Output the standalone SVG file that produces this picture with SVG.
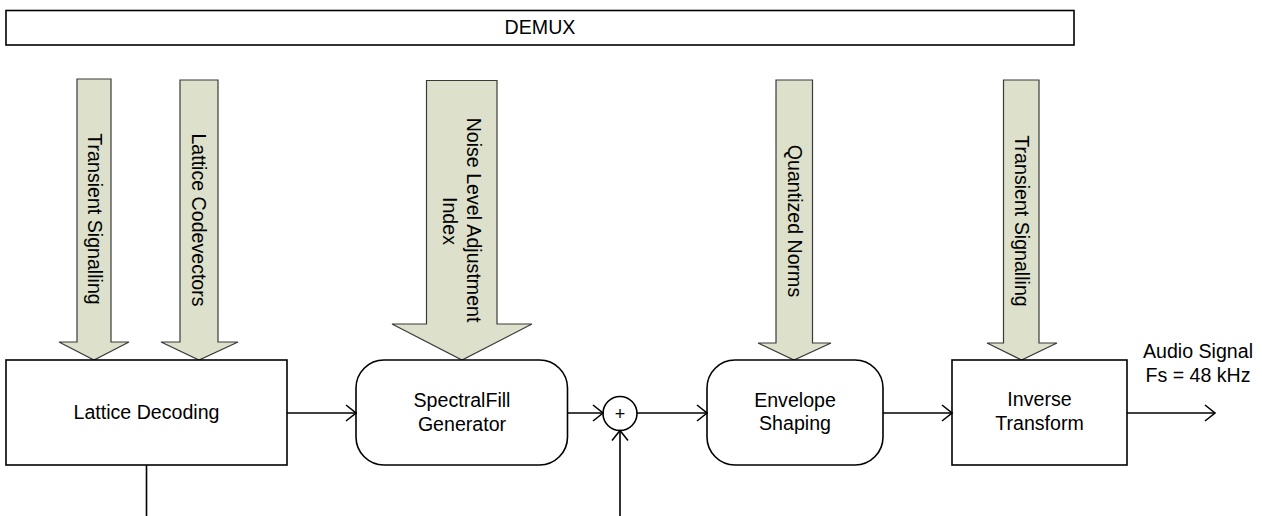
<svg xmlns="http://www.w3.org/2000/svg" width="1262" height="516" viewBox="0 0 1262 516">
<defs>
<style>
.box{fill:#fff;stroke:#000;stroke-width:1.6}
.t{font-family:"Liberation Sans",Arial,sans-serif;font-size:19.6px;fill:#000;text-anchor:middle}
.vt{font-family:"Liberation Sans",Arial,sans-serif;font-size:19.6px;fill:#000;text-anchor:middle;dominant-baseline:central}
.fat{fill:#DDE1CB;stroke:#3a3a3a;stroke-width:1.2}
.ln{fill:none;stroke:#000;stroke-width:1.6}
</style>
<marker id="arr" viewBox="-12 -12 24 24" markerWidth="24" markerHeight="24" refX="0" refY="0" orient="auto" markerUnits="userSpaceOnUse">
<path d="M-10,-8 L0,0 L-10,8" fill="none" stroke="#000" stroke-width="1.6"/>
</marker>
</defs>

<g id="demux">
<rect class="box" x="6" y="10.5" width="1068" height="34.5"/>
<text class="t" x="540" y="34">DEMUX</text>
</g>

<g id="arrow-transient-1">
<polygon class="fat" points="77,79 111,79 111,342 129,342 94,360 59,342 77,342"/>
<text class="vt" transform="translate(95,219) rotate(90)">Transient Signalling</text>
</g>
<g id="arrow-lattice-codevectors">
<polygon class="fat" points="180,80 218,80 218,342 238,342 199,360 161,342 180,342"/>
<text class="vt" transform="translate(199,220) rotate(90)">Lattice Codevectors</text>
</g>
<g id="arrow-noise-level">
<polygon class="fat" points="426.5,80.5 497,80.5 497,324 532,324 462,360 392,324 426.5,324"/>
<text class="vt" transform="translate(473.5,220) rotate(90)">Noise Level Adjustment</text>
<text class="vt" transform="translate(450,221) rotate(90)">Index</text>
</g>
<g id="arrow-quantized-norms">
<polygon class="fat" points="776,80 812.5,80 812.5,343 831,343 794,360 758,343 776,343"/>
<text class="vt" transform="translate(795,221) rotate(90)">Quantized Norms</text>
</g>
<g id="arrow-transient-2">
<polygon class="fat" points="1003.5,80 1039,80 1039,343 1057,343 1021.5,360 987,343 1003.5,343"/>
<text class="vt" transform="translate(1022,221) rotate(90)">Transient Signalling</text>
</g>

<g id="lattice-decoding">
<rect class="box" x="6" y="360" width="281" height="105"/>
<text class="t" x="146.5" y="419">Lattice Decoding</text>
</g>
<g id="spectralfill-generator">
<rect class="box" x="356" y="360" width="211.5" height="105" rx="28" ry="28"/>
<text class="t" x="462" y="407">SpectralFill</text>
<text class="t" x="462" y="431">Generator</text>
</g>
<g id="adder">
<circle class="box" cx="620" cy="413.5" r="17"/>
<text class="t" x="620" y="420" style="font-size:18px">+</text>
</g>
<g id="envelope-shaping">
<rect class="box" x="707" y="360" width="176" height="105" rx="28" ry="28"/>
<text class="t" x="795" y="407">Envelope</text>
<text class="t" x="795" y="430">Shaping</text>
</g>
<g id="inverse-transform">
<rect class="box" x="952" y="360" width="175" height="105"/>
<text class="t" x="1039.5" y="406">Inverse</text>
<text class="t" x="1039.5" y="430">Transform</text>
</g>
<g id="output-label">
<text class="t" x="1198" y="358">Audio Signal</text>
<text class="t" x="1198" y="382">Fs = 48 kHz</text>
</g>

<g id="connectors">
<line class="ln" x1="287" y1="413" x2="356" y2="413" marker-end="url(#arr)"/>
<line class="ln" x1="567.5" y1="413" x2="603" y2="413" marker-end="url(#arr)"/>
<line class="ln" x1="620" y1="516" x2="620" y2="430.5" marker-end="url(#arr)"/>
<line class="ln" x1="637" y1="413" x2="707" y2="413" marker-end="url(#arr)"/>
<line class="ln" x1="883" y1="413" x2="952" y2="413" marker-end="url(#arr)"/>
<line class="ln" x1="1127" y1="413" x2="1215" y2="413" marker-end="url(#arr)"/>
<line class="ln" x1="146.5" y1="465" x2="146.5" y2="516"/>
</g>
</svg>
